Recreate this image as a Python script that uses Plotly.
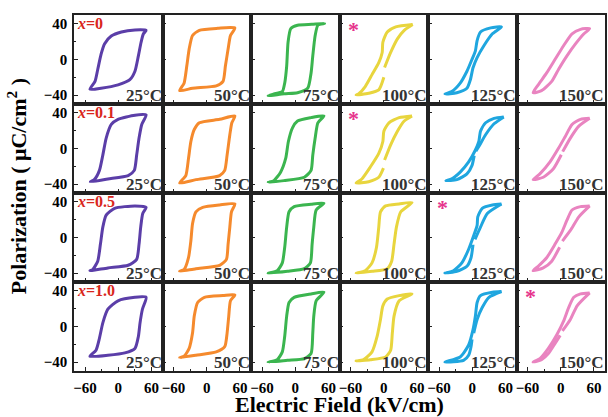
import plotly.graph_objects as go
from plotly.subplots import make_subplots

# ---------------- data ----------------
compositions = ["0", "0.1", "0.5", "1.0"]
temperatures = ["25", "50", "75", "100", "125", "150"]
loop_colors = ["#5b3ea8", "#f58a2d", "#3bb54f", "#e8d53e", "#1fa6df", "#e984c0"]
star_panels = [(0, 3), (1, 3), (2, 4), (3, 5)]
x_ticks = [-60, 0, 60]
x_minor = [-30, 30]
y_ticks = [-40, 0, 40]
y_minor = [-20, 20]

# x = 0
E_x0_25 = [50.4, 30.2, 5.7, -12.6, -24.9, -31.0, -37.1, -42.0, -51.2, -31.0, -0.4, 21.0, 30.2, 36.4, 41.3, 45.5, 50.4]
P_x0_25 = [32.8, 33.2, 30.9, 26.3, 17.5, 6.0, -11.2, -24.6, -33.5, -32.3, -28.5, -22.7, -13.2, 4.1, 19.4, 28.9, 32.8]
E_x0_50 = [50.9, 20.0, -13.4, -25.7, -31.8, -36.1, -41.0, -49.0, -25.7, 17.2, 29.4, 33.7, 38.6, 42.9, 50.9]
P_x0_50 = [35.5, 35.0, 32.8, 27.0, 11.7, -7.4, -26.6, -35.0, -32.3, -29.6, -24.6, -7.4, 11.7, 27.0, 35.5]
E_x0_75 = [53.1, 30.0, 4.1, -8.1, -13.0, -15.5, -19.1, -23.4, -38.7, -49.1, -20.0, 4.1, 22.5, 28.6, 31.7, 36.0, 40.9, 53.1]
P_x0_75 = [40.4, 39.5, 38.5, 34.7, 19.4, -7.4, -26.6, -36.1, -38.8, -40.7, -38.5, -37.3, -32.3, -15.1, 4.1, 27.0, 38.5, 40.4]
E_x0_100 = [52.3, 21.7, 6.3, -1.6, -2.8, -9.0, -21.2, -33.5, -45.7, -50.0, -27.3, -9.0, 0.2, None, 1.5, 12.5, 24.7, 37.0, 52.3]
P_x0_100 = [39.3, 36.6, 30.9, 19.4, 7.9, -3.6, -17.0, -30.4, -38.8, -40.0, -38.0, -34.2, -20.0, None, -9.0, 7.9, 23.2, 32.8, 39.3]
E_x0_125 = [52.9, 33.3, 14.9, 8.8, 5.7, -0.4, -9.6, -21.8, -37.1, -49.4, -27.9, -9.6, -3.4, 1.4, 8.8, 21.0, 36.4, 52.9]
P_x0_125 = [36.6, 35.5, 30.9, 21.3, 9.8, 0.2, -13.2, -26.6, -36.1, -38.8, -37.3, -32.3, -22.7, -9.3, 2.2, 15.5, 28.9, 36.6]
E_x0_150 = [52.3, 35.7, 20.4, 5.1, -10.2, -25.5, -40.8, -50.0, -34.7, -16.3, -4.1, 11.2, 26.6, 41.9, 52.3]
P_x0_150 = [34.7, 33.9, 28.9, 15.5, 0.2, -15.1, -28.5, -37.3, -35.0, -24.6, -11.2, 4.1, 17.5, 28.9, 34.7]

# x = 0.1
E_x01_25 = [50.4, 30.2, -0.4, -12.6, -21.8, -27.9, -34.0, -43.3, -50.6, -18.8, 18.0, 29.0, 33.3, 37.6, 42.5, 50.4]
P_x01_25 = [37.7, 37.4, 32.8, 27.0, 11.7, -7.4, -24.6, -35.0, -37.3, -34.2, -30.4, -24.6, -7.4, 11.7, 27.0, 37.7]
E_x01_50 = [50.9, 23.3, -13.4, -22.6, -28.7, -33.0, -37.9, -49.0, -19.6, 23.3, 32.5, 36.8, 41.7, 45.4, 50.9]
P_x01_50 = [36.6, 32.8, 28.9, 21.3, 7.9, -11.2, -30.4, -38.8, -35.0, -30.4, -24.6, -7.4, 15.5, 28.9, 36.6]
E_x01_75 = [51.9, 28.6, 4.1, -5.0, -12.4, -17.3, -26.5, -38.7, -49.1, -20.4, 16.4, 28.6, 31.7, 36.0, 40.9, 51.9]
P_x01_75 = [36.6, 34.7, 30.9, 23.2, 7.9, -11.2, -26.6, -36.1, -38.0, -36.1, -32.3, -24.6, -7.4, 11.7, 28.9, 36.6]
E_x01_100 = [51.1, 27.8, 9.4, 0.2, -1.6, -9.0, -24.3, -39.6, -50.0, -27.3, -9.0, -0.5, None, 1.5, 12.5, 24.7, 37.0, 51.1]
P_x01_100 = [36.6, 34.7, 28.9, 19.4, 7.9, -5.5, -20.8, -34.2, -38.8, -37.3, -32.3, -22.0, None, -13.0, 4.1, 19.4, 30.9, 36.6]
E_x01_125 = [57.0, 39.4, 24.1, 14.9, 11.9, 5.7, -6.5, -21.8, -37.1, -47.5, -27.9, -9.6, -0.4, 3.5, None, 6.5, 11.9, 24.1, 39.4, 57.0]
P_x01_125 = [35.5, 33.9, 28.9, 19.4, 7.9, -1.7, -15.1, -26.6, -34.2, -36.1, -35.0, -28.5, -18.9, -8.0, None, -3.0, 2.2, 15.5, 27.8, 35.5]
E_x01_150 = [52.3, 35.7, 20.4, 8.2, -4.1, -19.4, -37.7, -50.0, -31.6, -13.3, 1.0, None, 3.5, 17.4, 32.7, 52.3]
P_x01_150 = [33.9, 32.8, 27.0, 13.6, 0.2, -15.1, -28.5, -35.0, -32.3, -22.7, -7.0, None, -3.5, 11.7, 25.1, 33.9]

# x = 0.5
E_x05_25 = [50.4, 30.2, -6.5, -21.8, -27.9, -32.2, -37.1, -46.3, -51.2, -18.8, 18.0, 33.3, 37.6, 40.6, 44.3, 50.4]
P_x05_25 = [33.9, 35.5, 32.8, 25.1, 11.7, -7.4, -26.6, -36.1, -37.3, -34.2, -31.2, -24.6, -7.4, 11.7, 27.0, 33.9]
E_x05_50 = [50.9, 23.3, -7.3, -19.6, -25.7, -28.7, -33.0, -41.0, -49.0, -19.6, 23.3, 35.6, 38.6, 41.7, 44.7, 50.9]
P_x05_50 = [37.7, 36.6, 33.9, 28.9, 15.5, -3.6, -22.7, -36.1, -38.0, -35.0, -31.2, -24.6, -7.4, 11.7, 28.9, 37.7]
E_x05_75 = [51.9, 28.6, -2.0, -11.2, -15.5, -19.1, -23.4, -32.6, -49.1, -14.2, 16.4, 27.4, 30.5, 33.5, 37.8, 51.9]
P_x05_75 = [38.5, 37.4, 34.7, 28.9, 11.7, -11.2, -28.5, -37.3, -40.0, -38.0, -35.0, -28.5, -7.4, 11.7, 30.9, 38.5]
E_x05_100 = [51.1, 27.8, 3.3, -5.9, -9.0, -13.2, -21.2, -33.5, -50.0, -21.2, 6.3, 14.3, 18.6, 22.9, 30.8, 51.1]
P_x05_100 = [39.3, 37.7, 35.5, 28.9, 11.7, -11.2, -28.5, -37.3, -40.0, -38.0, -35.0, -26.6, -7.4, 11.7, 28.9, 39.3]
E_x05_125 = [52.9, 36.4, 18.0, 10.0, 8.8, 2.7, -6.5, -18.8, -34.0, -49.4, -27.9, -9.6, -2.2, 1.4, None, 5.0, 14.9, 27.2, 52.9]
P_x05_125 = [37.7, 36.6, 32.8, 23.2, 13.6, 2.2, -13.2, -28.5, -37.3, -40.0, -38.0, -32.3, -22.7, -8.0, None, -2.0, 11.7, 27.0, 37.7]
E_x05_150 = [52.3, 35.7, 20.4, 11.2, 2.1, -10.2, -25.5, -40.8, -50.0, -31.6, -16.3, -2.0, None, 3.0, 17.4, 32.7, 52.3]
P_x05_150 = [35.5, 34.7, 30.9, 19.4, 6.0, -7.4, -22.7, -32.3, -37.3, -34.2, -26.6, -11.0, None, -4.0, 7.9, 23.2, 35.5]

# x = 1.0
E_x10_25 = [50.4, 30.2, -0.4, -18.8, -27.9, -34.0, -40.2, -51.2, -18.8, 11.9, 30.2, 36.4, 39.4, 43.7, 50.4]
P_x10_25 = [32.8, 32.8, 28.9, 19.4, 4.1, -13.2, -26.6, -33.5, -32.3, -29.6, -24.6, -11.2, 4.1, 19.4, 32.8]
E_x10_50 = [50.9, 29.4, -4.2, -16.5, -22.6, -25.7, -31.8, -41.0, -49.0, -19.6, 17.2, 32.5, 36.8, 39.8, 42.9, 50.9]
P_x10_50 = [35.5, 34.7, 32.8, 27.0, 11.7, -7.4, -24.6, -33.5, -35.0, -32.3, -28.5, -22.7, -7.4, 11.7, 28.9, 35.5]
E_x10_75 = [51.9, 28.6, -2.0, -11.2, -15.5, -19.1, -23.4, -32.6, -49.1, -14.2, 16.4, 28.6, 31.7, 33.5, 37.8, 51.9]
P_x10_75 = [38.5, 36.6, 32.8, 27.0, 11.7, -11.2, -28.5, -37.3, -40.0, -38.0, -36.1, -30.4, -7.4, 11.7, 28.9, 38.5]
E_x10_100 = [51.1, 27.8, 6.3, -1.6, -5.9, -12.0, -21.2, -36.5, -50.0, -24.3, 3.3, 12.5, 15.5, 18.6, 27.8, 51.1]
P_x10_100 = [36.6, 34.7, 30.9, 23.2, 7.9, -11.2, -28.5, -37.3, -38.8, -37.3, -34.2, -26.6, -7.4, 11.7, 28.9, 36.6]
E_x10_125 = [52.9, 36.4, 14.9, 8.8, 5.7, 1.4, -6.5, -21.8, -49.4, -15.7, -6.5, -2.2, -0.4, None, 2.7, 8.8, 18.0, 30.2, 52.9]
P_x10_125 = [39.3, 38.5, 34.7, 27.0, 11.7, -3.6, -20.8, -34.2, -40.0, -38.0, -32.3, -22.7, -14.3, None, -7.4, 7.9, 21.3, 32.8, 39.3]
E_x10_150 = [52.3, 35.7, 23.5, 14.3, 5.1, -7.1, -22.4, -37.7, -50.0, -34.7, -22.4, -10.2, -1.0, None, 3.0, 17.4, 29.6, 52.3]
P_x10_150 = [37.7, 36.6, 32.8, 21.3, 6.0, -9.3, -24.6, -36.1, -40.0, -37.3, -30.4, -18.9, -10.0, None, -5.0, 7.9, 23.2, 37.7]

loops = [
    [(E_x0_25, P_x0_25), (E_x0_50, P_x0_50), (E_x0_75, P_x0_75),
     (E_x0_100, P_x0_100), (E_x0_125, P_x0_125), (E_x0_150, P_x0_150)],
    [(E_x01_25, P_x01_25), (E_x01_50, P_x01_50), (E_x01_75, P_x01_75),
     (E_x01_100, P_x01_100), (E_x01_125, P_x01_125), (E_x01_150, P_x01_150)],
    [(E_x05_25, P_x05_25), (E_x05_50, P_x05_50), (E_x05_75, P_x05_75),
     (E_x05_100, P_x05_100), (E_x05_125, P_x05_125), (E_x05_150, P_x05_150)],
    [(E_x10_25, P_x10_25), (E_x10_50, P_x10_50), (E_x10_75, P_x10_75),
     (E_x10_100, P_x10_100), (E_x10_125, P_x10_125), (E_x10_150, P_x10_150)],
]

# ---------------- figure ----------------
SERIF = "Liberation Serif, Times New Roman, serif"
NR, NC = 4, 6
fig = make_subplots(rows=NR, cols=NC, horizontal_spacing=0, vertical_spacing=0)

for r in range(NR):
    for c in range(NC):
        E, P = loops[r][c]
        fig.add_trace(go.Scatter(
            x=E, y=P, mode="lines", showlegend=False, hoverinfo="skip",
            line=dict(color=loop_colors[c], width=3, shape="spline", smoothing=0.6),
        ), row=r + 1, col=c + 1)

axis_common = dict(showline=True, mirror=True, linecolor="#222", linewidth=1.6,
                   ticks="inside", ticklen=4, tickwidth=1.2, tickcolor="#222",
                   showgrid=False, zeroline=False,
                   tickfont=dict(family=SERIF, size=15, color="black", weight="bold"))

fig.update_xaxes(range=[-80, 80], tickmode="array", tickvals=x_ticks,
                 minor=dict(tickmode="array", tickvals=x_minor, ticks="inside", ticklen=2.5, tickcolor="#222"),
                 showticklabels=False, **axis_common)
fig.update_yaxes(range=[-50, 50], tickmode="array", tickvals=y_ticks,
                 minor=dict(tickmode="array", tickvals=y_minor, ticks="inside", ticklen=2.5, tickcolor="#222"),
                 showticklabels=False, **axis_common)
for c in range(NC):
    fig.update_xaxes(showticklabels=True, ticklabelstandoff=2, row=NR, col=c + 1)
for r in range(NR):
    fig.update_yaxes(showticklabels=True, ticklabelstandoff=2, row=r + 1, col=1)

ann = []
for r in range(NR):
    for c in range(NC):
        idx = r * NC + c + 1
        sx = "x domain" if idx == 1 else f"x{idx} domain"
        sy = "y domain" if idx == 1 else f"y{idx} domain"
        ann.append(dict(xref=sx, yref=sy, x=1.0, y=0.0, xanchor="right", yanchor="bottom",
                        text=temperatures[c] + "°C", showarrow=False, yshift=-3, xshift=1,
                        font=dict(family=SERIF, size=17, color="#333", weight="bold")))
        if c == 0:
            ann.append(dict(xref=sx, yref=sy, x=0.0, y=1.0, xanchor="left", yanchor="top",
                            text="<i>x</i>=" + compositions[r], showarrow=False, xshift=1, yshift=2,
                            font=dict(family=SERIF, size=16, color="#d9261c", weight="bold")))
        if (r, c) in star_panels:
            ann.append(dict(xref=sx, yref=sy, x=0.16, y=0.84, xanchor="center", yanchor="middle",
                            text="*", showarrow=False,
                            font=dict(family=SERIF, size=22, color="#e6338c", weight="bold")))

W, H = 608, 417
ML, MR, MT, MB = 74, 1, 15, 46
pw = W - ML - MR
ph = H - MT - MB
ann.append(dict(xref="paper", yref="paper", x=(17 - ML) / pw, y=(H - MB - 186) / ph,
                xanchor="center", yanchor="middle",
                text="Polarization ( μC/cm<sup>2</sup> )", textangle=-90, showarrow=False,
                font=dict(family=SERIF, size=22, color="black", weight="bold")))
ann.append(dict(xref="paper", yref="paper", x=(340 - ML) / pw, y=(H - MB - 404) / ph,
                xanchor="center", yanchor="middle",
                text="Electric Field (kV/cm)", showarrow=False,
                font=dict(family=SERIF, size=22, color="black", weight="bold")))

fig.update_layout(width=W, height=H, margin=dict(l=ML, r=MR, t=MT, b=MB),
                  paper_bgcolor="white", plot_bgcolor="white", annotations=ann)

# remove the browser's default 8px page margin so the figure fills the window exactly
fig.write_html("out.html", config={"displayModeBar": False},
               post_script="document.body.style.margin='0';document.body.style.overflow='hidden';")
